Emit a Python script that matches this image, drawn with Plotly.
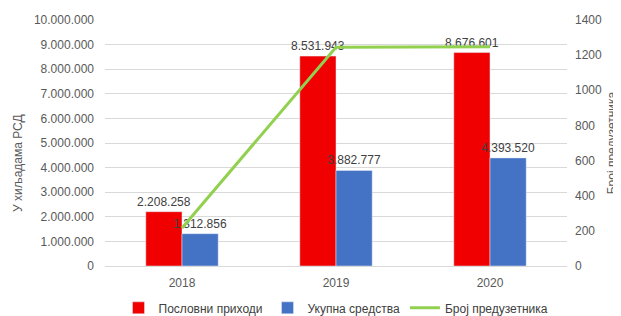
import plotly.graph_objects as go

years = ["2018", "2019", "2020"]
revenue = [2208258, 8531943, 8676601]
assets = [1312856, 3882777, 4393520]
entrepreneurs = [216, 1245, 1248]

grey = "#595959"
font = "Liberation Sans"

def fmt(v):
    return f"{v:,}".replace(",", ".")

fig = go.Figure()
fig.add_trace(go.Bar(
    x=years, y=revenue, name="Пословни приходи", marker_color="#F00000",
    text=[fmt(v) for v in revenue], textposition="outside", constraintext="none",
    textfont=dict(size=12, color="#404040"), cliponaxis=False,
))
fig.add_trace(go.Bar(
    x=years, y=assets, name="Укупна средства", marker_color="#4472C4",
    text=[fmt(v) for v in assets], textposition="outside", constraintext="none",
    textfont=dict(size=12, color="#404040"), cliponaxis=False,
))
fig.add_trace(go.Scatter(
    x=years, y=entrepreneurs, name="Број предузетника", mode="lines",
    line=dict(color="#92D050", width=3), yaxis="y2",
))

fig.update_layout(
    width=613, height=308,
    margin=dict(l=97, r=54, t=12, b=50, autoexpand=False),
    paper_bgcolor="white", plot_bgcolor="white",
    font=dict(family=font, size=12, color=grey),
    separators=",.",
    barmode="group", bargap=0.53, bargroupgap=0,
    showlegend=True,
    legend=dict(orientation="h", x=0.5, xanchor="center", y=-0.17, yanchor="middle",
                font=dict(size=12, color="#404040"), traceorder="normal",
                itemwidth=30, bgcolor="rgba(0,0,0,0)"),
    xaxis=dict(showgrid=False, showline=True, linecolor="#d9d9d9", ticks="",
               ticklabelstandoff=6, tickfont=dict(size=12, color=grey)),
    yaxis=dict(range=[0, 10000000], dtick=1000000, tickformat=",d",
               gridcolor="#d9d9d9", zeroline=False, ticklabelstandoff=10,
               tickfont=dict(size=12, color=grey)),
    yaxis2=dict(range=[0, 1400], dtick=200, overlaying="y", side="right",
                showgrid=False, zeroline=False, ticklabelstandoff=7,
                tickfont=dict(size=12, color=grey)),
    annotations=[
        dict(text="У хиљадама РСД", xref="paper", yref="paper",
             x=-0.19, y=0.42, xanchor="center", yanchor="middle",
             textangle=-90, showarrow=False, font=dict(size=12, color=grey)),
        dict(text="Број предузетника", xref="paper", yref="paper",
             x=1.098, y=0.5, xanchor="center", yanchor="middle",
             textangle=-90, showarrow=False, font=dict(size=12, color=grey)),
    ],
)

fig.write_html("out.html")
